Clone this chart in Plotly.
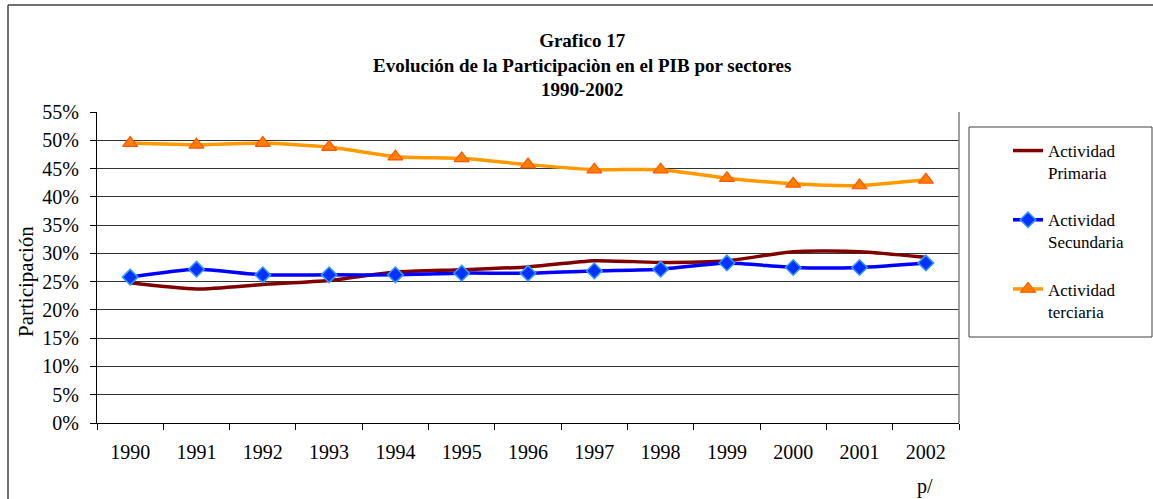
import plotly.graph_objects as go

years = ["1990", "1991", "1992", "1993", "1994", "1995", "1996",
         "1997", "1998", "1999", "2000", "2001", "2002"]
primaria = [0.248, 0.237, 0.245, 0.252, 0.267, 0.271, 0.276,
            0.287, 0.284, 0.287, 0.303, 0.303, 0.293]
secundaria = [0.258, 0.272, 0.262, 0.262, 0.262, 0.265, 0.265,
              0.269, 0.272, 0.283, 0.275, 0.275, 0.283]
terciaria = [0.495, 0.492, 0.495, 0.488, 0.471, 0.468, 0.457,
             0.448, 0.448, 0.433, 0.423, 0.420, 0.430]
yticks = [0, 0.05, 0.10, 0.15, 0.20, 0.25, 0.30, 0.35, 0.40, 0.45, 0.50, 0.55]
ytick_labels = ["0%", "5%", "10%", "15%", "20%", "25%", "30%", "35%", "40%", "45%", "50%", "55%"]
title_lines = ["Grafico 17", "Evolución de la Participaciòn en el PIB por sectores", "1990-2002"]

W, H = 1153, 499
L, R, T, B = 97, 959, 112, 423

def px(x):
    return (x - L) / (R - L)

def py(y):
    return (B - y) / (B - T)

font = "Liberation Serif, Times New Roman, serif"

fig = go.Figure()
fig.add_trace(go.Scatter(
    x=years, y=primaria, mode="lines", name="Actividad<br>Primaria",
    legendgroup="a",
    line=dict(color="#800000", width=3.5, shape="spline", smoothing=0.6)))
fig.add_trace(go.Scatter(
    x=years, y=secundaria, mode="lines+markers", name="Actividad<br>Secundaria",
    legendgroup="b",
    line=dict(color="#0000FF", width=3.5, shape="spline", smoothing=0.6),
    marker=dict(symbol="diamond", size=12, color="#0033FF",
                line=dict(color="#3399FF", width=1.5))))
fig.add_trace(go.Scatter(
    x=years, y=terciaria, mode="lines+markers", name="Actividad<br>terciaria",
    legendgroup="c",
    line=dict(color="#FF9900", width=3.5, shape="spline", smoothing=0.6),
    marker=dict(symbol="triangle-up", size=13, color="#FF8000",
                line=dict(color="#FF5500", width=1.2))))

fig.update_layout(
    width=W, height=H,
    margin=dict(l=L, r=W - R, t=T, b=H - B, autoexpand=False),
    paper_bgcolor="white", plot_bgcolor="white",
    font=dict(family=font, size=20, color="black"),
    xaxis=dict(
        type="category", categoryorder="array", categoryarray=years,
        showgrid=False, showline=True, linecolor="black", linewidth=1,
        ticks="outside", ticklen=6, tickcolor="black", tickson="boundaries",
        tickfont=dict(family=font, size=20), ticklabelstandoff=11,
        range=[-0.5, len(years) - 0.5], automargin=False),
    yaxis=dict(
        range=[0, 0.55], tickvals=yticks, ticktext=ytick_labels,
        showgrid=True, gridcolor="#333333", gridwidth=1,
        showline=True, linecolor="black", linewidth=1,
        ticks="outside", ticklen=6, tickcolor="black",
        tickfont=dict(family=font, size=20), ticklabelstandoff=7,
        zeroline=False, automargin=False),
    legend=dict(
        x=px(1008), y=py(133), xanchor="left", yanchor="top",
        bgcolor="rgba(0,0,0,0)", borderwidth=0,
        font=dict(family=font, size=17), tracegroupgap=22,
        valign="top"),
    showlegend=True,
)

# title (three lines)
fig.add_annotation(text="<b>" + "<br>".join(title_lines) + "</b>",
                   xref="paper", yref="paper",
                   x=px(582), y=py(65), xanchor="center", yanchor="middle",
                   showarrow=False, font=dict(family=font, size=19))

# y axis title
fig.add_annotation(text="Participación", xref="paper", yref="paper",
                   x=px(26), y=py(282), xanchor="center", yanchor="middle",
                   textangle=-90, showarrow=False, font=dict(family=font, size=21))

# plot area right border
fig.add_shape(type="line", xref="paper", yref="paper", x0=1, x1=1, y0=0, y1=1,
              line=dict(color="#808080", width=1.5))
# legend box
fig.add_shape(type="rect", xref="paper", yref="paper",
              x0=px(969), x1=px(1152), y0=py(337), y1=py(127),
              line=dict(color="#404040", width=1))
# outer border (left and top)
fig.add_shape(type="line", xref="paper", yref="paper",
              x0=px(8), x1=px(8), y0=py(5), y1=py(499),
              line=dict(color="#404040", width=1.5))
fig.add_shape(type="line", xref="paper", yref="paper",
              x0=px(8), x1=px(1153), y0=py(5), y1=py(5),
              line=dict(color="#404040", width=1.5))

fig.add_annotation(x=px(925), xref="paper", y=py(486), yref="paper",
                   text="p/", showarrow=False, xanchor="center", yanchor="middle",
                   font=dict(family=font, size=20))

fig.write_html("out.html", config={"displayModeBar": False},
               post_script="document.body.style.margin='0';")
